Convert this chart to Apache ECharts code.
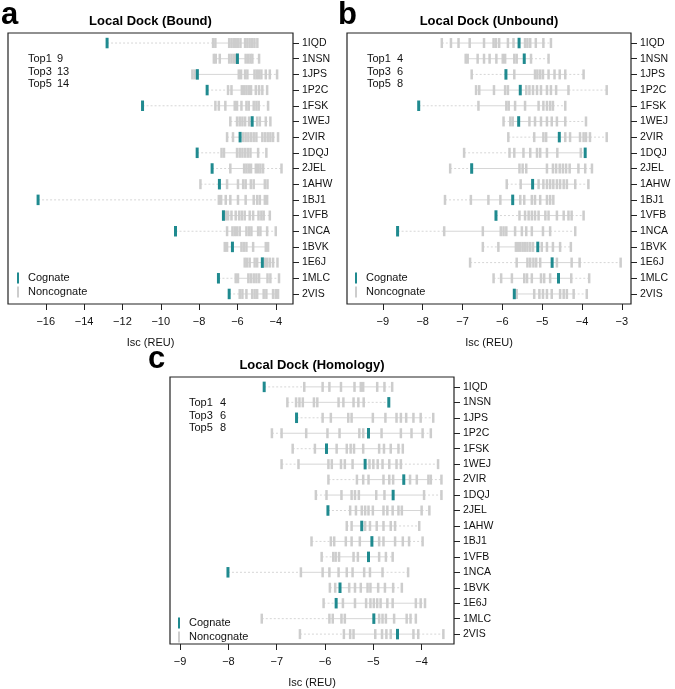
<!DOCTYPE html>
<html>
<head>
<meta charset="utf-8">
<script src="https://cdn.jsdelivr.net/npm/echarts@6/dist/echarts.min.js"></script>
<style>
  html, body { margin: 0; padding: 0; background: #fff; }
  #main { width: 675px; height: 689px; }
</style>
</head>
<body>
<div id="main"></div>
<script>
var proteins = ['1IQD', '1NSN', '1JPS', '1P2C', '1FSK', '1WEJ', '2VIR', '1DQJ', '2JEL',
  '1AHW', '1BJ1', '1VFB', '1NCA', '1BVK', '1E6J', '1MLC', '2VIS'];

// Local Dock (Bound)
var boundCognate = [-12.8, -6.0, -8.09, -7.58, -10.95, -5.23, -5.86, -8.1, -7.32,
  -6.94, -16.4, -6.73, -9.23, -6.26, -4.7, -6.99, -6.43];
var boundDecoys = [
  [-7.27, -7.15, -6.43, -6.31, -6.19, -6.09, -5.97, -5.84, -5.6, -5.48, -5.36, -5.23, -5.11, -4.96],
  [-7.23, -7.13, -6.92, -6.43, -6.31, -6.19, -6.09, -5.57, -5.44, -5.32, -5.22, -4.87],
  [-8.35, -8.23, -5.93, -5.81, -5.6, -5.48, -5.11, -4.99, -4.87, -4.75, -4.52, -4.31, -3.93],
  [-6.49, -6.31, -5.77, -5.65, -5.53, -5.41, -5.29, -5.04, -4.87, -4.7, -4.45],
  [-7.15, -6.97, -6.63, -6.14, -6.02, -5.79, -5.53, -5.41, -5.15, -5.01, -4.89, -4.4],
  [-6.37, -6.02, -5.88, -5.74, -5.6, -5.39, -4.97, -4.83, -4.52, -4.28],
  [-6.54, -6.23, -5.7, -5.57, -5.43, -5.29, -5.15, -5.01, -4.7, -4.56, -4.42, -4.28, -4.14, -3.88],
  [-6.83, -6.7, -6.02, -5.88, -5.74, -5.6, -5.46, -5.32, -4.92, -4.49],
  [-6.37, -5.65, -5.53, -5.41, -5.29, -5.04, -4.92, -4.8, -4.66, -3.7],
  [-7.93, -6.54, -5.97, -5.7, -5.57, -5.3, -5.15, -4.57, -4.43],
  [-6.97, -6.85, -6.61, -6.37, -5.97, -5.57, -5.15, -4.97, -4.83, -4.57, -4.45],
  [-6.61, -6.49, -6.31, -6.09, -5.91, -5.77, -5.62, -5.36, -5.18, -4.9, -4.75, -4.63, -4.31],
  [-6.54, -6.26, -6.14, -6.02, -5.88, -5.53, -5.39, -5.27, -4.92, -4.8, -4.45, -4.0],
  [-6.66, -6.54, -5.79, -5.67, -5.53, -5.18, -4.52, -4.4],
  [-5.62, -5.5, -5.36, -5.1, -4.97, -4.57, -4.45, -4.31, -4.14, -3.91],
  [-6.09, -5.97, -5.43, -5.3, -5.15, -5.01, -4.87, -4.43, -4.28, -3.83],
  [-5.88, -5.74, -5.53, -5.23, -5.1, -4.97, -4.63, -4.49, -4.14, -4.0, -3.88]
];
var boundTop = [9, 13, 14];

// Local Dock (Unbound)
var unboundCognate = [-5.58, -5.45, -5.91, -5.55, -8.1, -5.59, -4.57, -3.92, -6.77,
  -5.24, -5.74, -6.16, -8.63, -5.11, -4.75, -4.59, -5.7];
var unboundDecoys = [
  [-7.52, -7.29, -7.1, -6.82, -6.46, -6.22, -6.16, -6.08, -5.86, -5.72, -5.43, -5.37, -5.3, -5.16, -4.97, -4.78],
  [-6.92, -6.87, -6.62, -6.46, -6.32, -6.15, -5.99, -5.93, -5.7, -5.64, -5.28, -4.84],
  [-6.77, -5.7, -5.18, -5.12, -5.05, -4.98, -4.84, -4.69, -4.56, -4.42, -3.96],
  [-6.66, -6.58, -6.21, -5.93, -5.86, -5.4, -5.32, -5.23, -5.13, -5.03, -4.88, -4.78, -4.65, -4.34, -3.38],
  [-6.6, -5.9, -5.84, -5.68, -5.43, -5.09, -4.97, -4.88, -4.8, -4.73, -4.42],
  [-5.97, -5.8, -5.74, -5.32, -5.18, -5.03, -4.88, -4.76, -4.63, -4.42, -3.9],
  [-5.85, -5.2, -4.97, -4.9, -4.42, -4.3, -4.05, -3.96, -3.9, -3.8, -3.38],
  [-6.96, -5.82, -5.7, -5.47, -5.3, -5.13, -5.05, -4.88, -4.62, -4.03],
  [-7.31, -5.57, -5.49, -5.4, -4.88, -4.73, -4.65, -4.56, -4.48, -4.4, -4.31, -4.09, -3.92, -3.75],
  [-5.89, -5.54, -5.09, -4.97, -4.88, -4.8, -4.72, -4.63, -4.55, -4.46, -4.38, -4.17, -3.84],
  [-7.44, -6.79, -6.35, -6.05, -5.55, -5.45, -5.26, -5.18, -5.05, -4.88, -4.8, -4.72],
  [-5.57, -5.43, -5.34, -5.26, -5.18, -5.09, -4.92, -4.84, -4.63, -4.46, -4.34, -4.26, -3.96],
  [-7.46, -6.49, -6.04, -5.97, -5.9, -5.68, -5.51, -5.4, -5.26, -4.98, -4.8, -4.17],
  [-6.49, -6.1, -5.66, -5.61, -5.55, -5.49, -5.43, -5.37, -5.3, -5.23, -5.01, -4.88, -4.73, -4.55, -4.28],
  [-6.81, -5.64, -5.37, -5.3, -5.22, -5.15, -5.05, -4.63, -4.26, -4.06, -3.03],
  [-6.22, -6.03, -5.76, -5.45, -5.38, -5.26, -5.03, -4.95, -4.8, -4.27, -3.82],
  [-5.64, -5.2, -5.07, -4.98, -4.88, -4.76, -4.55, -4.46, -4.38, -4.21, -3.88]
];
var unboundTop = [4, 6, 8];

// Local Dock (Homology)
var homologyCognate = [-7.26, -4.68, -6.59, -5.1, -5.97, -5.17, -4.37, -4.59, -5.94,
  -5.24, -5.03, -5.1, -8.01, -5.69, -5.77, -4.99, -4.5];
var homologyDecoys = [
  [-6.43, -6.05, -5.91, -5.67, -5.39, -5.26, -5.21, -4.92, -4.77, -4.61],
  [-6.78, -6.6, -6.53, -6.46, -6.23, -6.16, -5.72, -5.62, -5.41, -5.31, -5.2],
  [-6.05, -5.88, -5.52, -5.45, -5.01, -4.75, -4.52, -4.43, -4.32, -4.17, -4.02, -3.76],
  [-7.1, -6.9, -6.39, -5.95, -5.7, -5.29, -5.21, -4.83, -4.43, -4.21, -3.98, -3.81],
  [-6.67, -6.21, -5.76, -5.55, -5.47, -5.4, -5.21, -4.88, -4.78, -4.64, -4.48, -4.39],
  [-6.9, -6.55, -5.93, -5.86, -5.67, -5.59, -5.43, -5.08, -5.0, -4.91, -4.81, -4.67, -4.52, -4.43, -3.66],
  [-5.93, -5.34, -5.21, -5.1, -4.79, -4.67, -4.59, -4.24, -4.1, -3.86, -3.81, -3.59],
  [-6.19, -5.97, -5.66, -5.45, -5.38, -5.3, -4.94, -4.77, -3.95, -3.59],
  [-5.48, -5.36, -5.24, -5.17, -5.1, -5.01, -4.79, -4.71, -4.6, -4.48, -4.41, -4.0, -3.84],
  [-5.55, -5.45, -5.17, -5.07, -4.93, -4.79, -4.64, -4.55, -4.05],
  [-6.28, -5.88, -5.81, -5.57, -5.45, -5.28, -4.88, -4.79, -4.55, -4.39, -4.26, -3.98],
  [-6.07, -5.83, -5.78, -5.71, -5.41, -5.32, -4.88, -4.74, -4.6],
  [-6.5, -6.05, -5.91, -5.72, -5.55, -5.43, -5.19, -5.07, -4.81, -4.28],
  [-5.9, -5.79, -5.5, -5.38, -5.26, -5.12, -5.06, -4.9, -4.76, -4.59, -4.41],
  [-6.03, -5.63, -5.38, -5.15, -5.06, -4.99, -4.92, -4.85, -4.71, -4.6, -4.12, -4.02, -3.93],
  [-7.31, -5.91, -5.84, -5.66, -5.59, -4.88, -4.81, -4.74, -4.57, -4.31, -4.23, -4.12],
  [-6.52, -5.61, -5.48, -5.41, -4.96, -4.82, -4.73, -4.64, -4.17, -4.07, -3.55]
];
var homologyTop = [4, 6, 8];

var boundTicks = [-16, -14, -12, -10, -8, -6, -4];
var unboundTicks = [-9, -8, -7, -6, -5, -4, -3];
var homologyTicks = [-9, -8, -7, -6, -5, -4];

var TEAL = '#1f8a8f';
var GREY = '#cdcdcd';
var LINE = '#d6d6d6';
var FONT = 'Liberation Sans, Arial, Helvetica, sans-serif';

var panels = [
  { letter: 'a', title: 'Local Dock (Bound)', cog: boundCognate, dec: boundDecoys, top: boundTop,
    ticks: boundTicks, xmin: -17.97, xmax: -3.1,
    grid: { left: 8, top: 33, width: 285, height: 271 }, letterPos: [1, 0], topPos: [28, 59, 57], legPos: [17, 278] },
  { letter: 'b', title: 'Local Dock (Unbound)', cog: unboundCognate, dec: unboundDecoys, top: unboundTop,
    ticks: unboundTicks, xmin: -9.9, xmax: -2.77,
    grid: { left: 347, top: 33, width: 284, height: 271 }, letterPos: [338, 0], topPos: [367, 59, 397], legPos: [355, 278] },
  { letter: 'c', title: 'Local Dock (Homology)', cog: homologyCognate, dec: homologyDecoys, top: homologyTop,
    ticks: homologyTicks, xmin: -9.21, xmax: -3.33,
    grid: { left: 170, top: 377, width: 284, height: 270 }, letterPos: [148, 344], topPos: [189, 403, 220], legPos: [178, 623] }
];

var rowIdx = proteins.map(function (p, i) { return i; });

var grids = [], xAxes = [], yAxes = [], series = [], graphics = [];

panels.forEach(function (p, gi) {
  grids.push({
    left: p.grid.left, top: p.grid.top, width: p.grid.width, height: p.grid.height,
    show: true, borderColor: '#222', borderWidth: 1.2, backgroundColor: 'transparent'
  });
  xAxes.push({
    gridIndex: gi, type: 'value', min: p.xmin, max: p.xmax, position: 'bottom',
    axisLine: { show: false, onZero: false },
    splitLine: { show: false },
    axisTick: { show: true, inside: false, length: 6, customValues: p.ticks, lineStyle: { color: '#222', width: 1 } },
    axisLabel: {
      customValues: p.ticks, margin: 12, fontSize: 11, fontFamily: FONT, color: '#111',
      formatter: function (v) { return v < 0 ? '\u2212' + Math.abs(v) : String(v); }
    },
    name: 'Isc (REU)', nameLocation: 'middle', nameGap: 33,
    nameTextStyle: { fontSize: 11, fontFamily: FONT, color: '#111' }
  });
  yAxes.push({
    gridIndex: gi, type: 'value', inverse: true, min: -0.64, max: 16.64, position: 'right',
    axisLine: { show: false, onZero: false },
    splitLine: { show: false },
    axisTick: { show: true, inside: false, length: 6, customValues: rowIdx, lineStyle: { color: '#222', width: 1 } },
    axisLabel: {
      customValues: rowIdx, margin: 9, fontSize: 10.5, fontFamily: FONT, color: '#111',
      formatter: function (v) { return proteins[Math.round(v)]; }
    }
  });

  // range lines: dashed tails, solid core
  var lineData = p.cog.map(function (c, k) {
    var all = p.dec[k].concat([c]).sort(function (a, b) { return a - b; });
    var n = all.length;
    return [k, all[0], all[1], all[n - 2], all[n - 1]];
  });
  series.push({
    type: 'custom', xAxisIndex: gi, yAxisIndex: gi, silent: true, z: 1,
    encode: { x: [1, 4], y: 0 },
    data: lineData,
    renderItem: function (params, api) {
      var y = api.value(0);
      var a = api.coord([api.value(1), y]), b = api.coord([api.value(2), y]);
      var c = api.coord([api.value(3), y]), d = api.coord([api.value(4), y]);
      var dashed = { stroke: LINE, lineWidth: 1, lineDash: [2, 2] };
      var solid = { stroke: LINE, lineWidth: 1 };
      return {
        type: 'group', children: [
          { type: 'line', shape: { x1: a[0], y1: a[1], x2: b[0], y2: b[1] }, style: dashed },
          { type: 'line', shape: { x1: b[0], y1: b[1], x2: c[0], y2: c[1] }, style: solid },
          { type: 'line', shape: { x1: c[0], y1: c[1], x2: d[0], y2: d[1] }, style: dashed }
        ]
      };
    }
  });

  var decData = [];
  p.dec.forEach(function (row, k) {
    row.forEach(function (v) { decData.push([v, k]); });
  });
  series.push({
    name: 'Noncognate', type: 'scatter', xAxisIndex: gi, yAxisIndex: gi, silent: true, z: 2,
    symbol: 'rect', symbolSize: [2.5, 10], itemStyle: { color: GREY, opacity: 1 },
    data: decData
  });
  series.push({
    name: 'Cognate', type: 'scatter', xAxisIndex: gi, yAxisIndex: gi, silent: true, z: 3,
    symbol: 'rect', symbolSize: [3, 10.5], itemStyle: { color: TEAL, opacity: 1 },
    data: p.cog.map(function (v, k) { return [v, k]; })
  });

  var cx = p.grid.left + p.grid.width / 2;
  graphics.push({
    type: 'text', left: p.letterPos[0], top: p.letterPos[1],
    style: { text: p.letter, font: 'bold 31px ' + FONT, fill: '#000' }
  });
  graphics.push({
    type: 'text', x: cx, y: p.grid.top - 12,
    style: { text: p.title, font: 'bold 13px ' + FONT, fill: '#000', align: 'center', verticalAlign: 'middle' }
  });
  ['Top1', 'Top3', 'Top5'].forEach(function (lab, j) {
    var yy = p.topPos[1] + j * 12.6;
    graphics.push({ type: 'text', x: p.topPos[0], y: yy,
      style: { text: lab, font: '11px ' + FONT, fill: '#111', verticalAlign: 'middle' } });
    graphics.push({ type: 'text', x: p.topPos[2], y: yy,
      style: { text: String(p.top[j]), font: '11px ' + FONT, fill: '#111', verticalAlign: 'middle' } });
  });
  // legend
  var lx = p.legPos[0], ly = p.legPos[1];
  graphics.push({ type: 'rect', shape: { x: lx, y: ly - 5.5, width: 2, height: 11 }, style: { fill: TEAL } });
  graphics.push({ type: 'rect', shape: { x: lx, y: ly + 8.5, width: 2, height: 11 }, style: { fill: GREY } });
  graphics.push({ type: 'text', x: lx + 11, y: ly,
    style: { text: 'Cognate', font: '11px ' + FONT, fill: '#111', verticalAlign: 'middle' } });
  graphics.push({ type: 'text', x: lx + 11, y: ly + 14,
    style: { text: 'Noncognate', font: '11px ' + FONT, fill: '#111', verticalAlign: 'middle' } });
});

var chart = echarts.init(document.getElementById('main'));
chart.setOption({
  animation: false,
  backgroundColor: '#fff',
  textStyle: { fontFamily: FONT },
  grid: grids,
  xAxis: xAxes,
  yAxis: yAxes,
  series: series,
  graphic: graphics
});
window.addEventListener('resize', function () { chart.resize(); });
</script>
</body>
</html>
